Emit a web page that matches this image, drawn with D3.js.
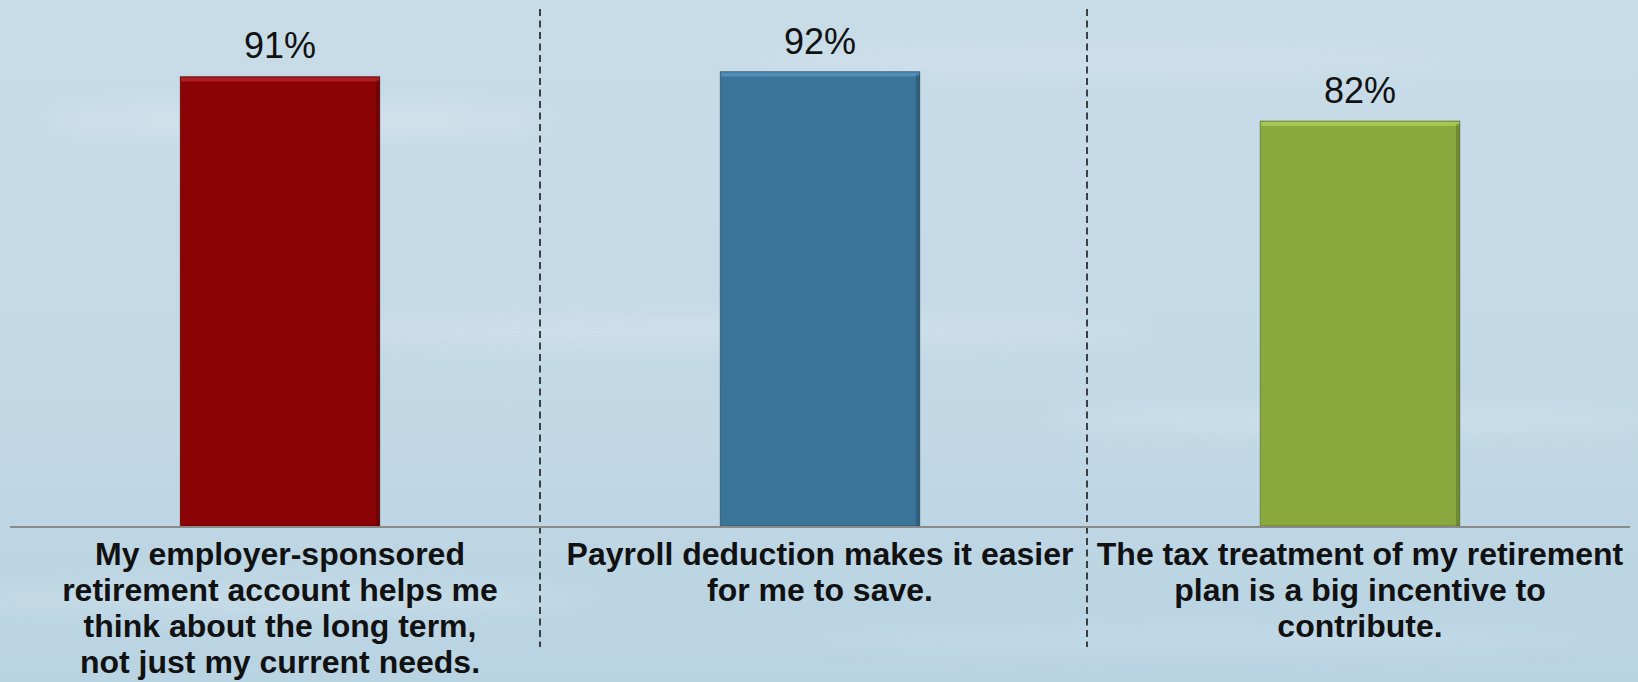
<!DOCTYPE html>
<html>
<head>
<meta charset="utf-8">
<script src="https://cdn.jsdelivr.net/npm/d3@7"></script>
<style>
  body { margin: 0; overflow: hidden; }
  svg { display: block; font-family: "Liberation Sans", Arial, sans-serif; }
</style>
</head>
<body>
<div id="chart"></div>
<script>
// chart data
const categories = ["employer", "payroll", "tax"];
const values = [91, 92, 82];
const valueLabels = ["91%", "92%", "82%"];
const categoryLines = [
    ["My employer-sponsored", "retirement account helps me", "think about the long term,", "not just my current needs."],
    ["Payroll deduction makes it easier", "for me to save."],
    ["The tax treatment of my retirement", "plan is a big incentive to", "contribute."]
];
const barColors = ["#8a0405", "#3b7499", "#89a93e"];
const topColors = ["#b8262a", "#5a95c0", "#aed05a"];

const width = 1638, height = 682,
      margin = ({ top: 32, right: 8, bottom: 156, left: 10 });

let svg = d3.select("#chart")
    .append("svg")
    .attr("width", width)
    .attr("height", height);

// background
let defs = svg.append("defs");
let bg = defs.append("linearGradient")
    .attr("id", "bg")
    .attr("x1", 0).attr("y1", 0).attr("x2", 0).attr("y2", 1);
bg.append("stop").attr("offset", "0%").attr("stop-color", "#c8dce8");
bg.append("stop").attr("offset", "55%").attr("stop-color", "#c4d9e6");
bg.append("stop").attr("offset", "100%").attr("stop-color", "#b8d3e2");

svg.append("rect")
    .attr("width", width)
    .attr("height", height)
    .attr("fill", "url(#bg)");

// a few soft streaks
let blur = defs.append("filter").attr("id", "soft")
    .attr("x", "-20%").attr("y", "-200%").attr("width", "140%").attr("height", "500%");
blur.append("feGaussianBlur").attr("stdDeviation", 10);
const streaks = [[300, 120, 500, 14, 0.18], [1100, 60, 700, 10, 0.15], [700, 330, 900, 16, 0.14], [1350, 420, 600, 12, 0.16], [250, 600, 700, 18, 0.12], [1200, 640, 800, 14, 0.12]];
svg.append("g").selectAll("ellipse")
    .data(streaks)
    .join("ellipse")
    .attr("cx", d => d[0]).attr("cy", d => d[1])
    .attr("rx", d => d[2] / 2).attr("ry", d => d[3])
    .attr("fill", "#ffffff")
    .attr("opacity", d => d[4])
    .attr("filter", "url(#soft)");

let x = d3.scaleBand()
    .domain(categories)
    .range([margin.left, width - margin.right])
    .paddingInner(0.63)
    .paddingOuter(0.315);

let y = d3.scaleLinear()
    .domain([0, 100])
    .range([height - margin.bottom, margin.top]);

// dashed dividers between categories (sit a little left of the band gap)
const dividers = categories.slice(0, -1);
const dividerShift = [-10, -3];
const gapX = (d, i) => x(d) + x.bandwidth() + (x.step() - x.bandwidth()) / 2 + dividerShift[i];
svg.append("g").selectAll("line")
    .data(dividers)
    .join("line")
    .attr("x1", gapX)
    .attr("x2", gapX)
    .attr("y1", 9)
    .attr("y2", 647)
    .attr("stroke", "#1a1a1a")
    .attr("stroke-width", 1.6)
    .attr("stroke-dasharray", "7,4.5");

let bar = svg.selectAll(".bar")
    .data(categories)
    .join("g")
    .attr("class", "bar");

bar.append("rect")
    .attr("x", d => x(d))
    .attr("y", (d, i) => y(values[i]))
    .attr("width", x.bandwidth())
    .attr("height", (d, i) => y(0) - y(values[i]))
    .attr("fill", (d, i) => barColors[i])
    .attr("stroke", "rgba(0,0,0,0.25)")
    .attr("stroke-width", 1);

// bevel: lighter top edge, darker right edge
bar.append("rect")
    .attr("x", d => x(d) + 1)
    .attr("y", (d, i) => y(values[i]) + 1)
    .attr("width", x.bandwidth() - 2)
    .attr("height", 4)
    .attr("fill", (d, i) => topColors[i])
    .attr("opacity", 0.8);

bar.append("rect")
    .attr("x", d => x(d) + x.bandwidth() - 4)
    .attr("y", (d, i) => y(values[i]) + 3)
    .attr("width", 4)
    .attr("height", (d, i) => y(0) - y(values[i]) - 3)
    .attr("fill", "#000")
    .attr("opacity", 0.18);

bar.append("text")
    .text((d, i) => valueLabels[i])
    .attr("x", d => x(d) + x.bandwidth() / 2)
    .attr("y", (d, i) => y(values[i]) - 18)
    .attr("text-anchor", "middle")
    .style("font-size", "36px")
    .style("fill", "#111");

// baseline
svg.append("line")
    .attr("x1", margin.left)
    .attr("x2", width - margin.right)
    .attr("y1", y(0) + 1)
    .attr("y2", y(0) + 1)
    .attr("stroke", "#8a8a8a")
    .attr("stroke-width", 2);

// category labels
let labels = svg.append("g").selectAll("text")
    .data(categories)
    .join("text")
    .attr("text-anchor", "middle")
    .style("font-size", "32px")
    .style("font-weight", "bold")
    .style("fill", "#111");

labels.selectAll("tspan")
    .data((d, i) => categoryLines[i].map(t => [d, t]))
    .join("tspan")
    .attr("x", d => x(d[0]) + x.bandwidth() / 2)
    .attr("y", (d, j) => y(0) + 39 + j * 36)
    .text(d => d[1]);
</script>
</body>
</html>
